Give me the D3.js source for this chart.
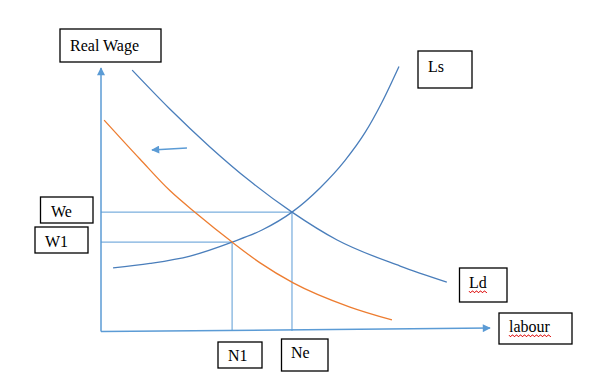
<!DOCTYPE html>
<html>
<head>
<meta charset="utf-8">
<script src="https://cdn.jsdelivr.net/npm/d3@7"></script>
<style>
  html, body { margin: 0; padding: 0; background: #fff; }
  svg { display: block; }
  text { font-family: "Liberation Serif", "Times New Roman", serif; font-size: 16px; fill: #000; }
</style>
</head>
<body>
<svg id="chart" width="600" height="372"></svg>
<script>
// ---- data (labour on x: 0..100, real wage on y: 0..100) ----
const ldLabour = [8.0, 17.7, 28.0, 38.3, 49.1, 60.7, 76.9, 88.9];
const ldWage   = [99.2, 84.4, 70.0, 57.0, 45.2, 34.6, 24.7, 18.6];

const lsLabour = [3.1, 12.6, 22.9, 33.7, 41.4, 49.1, 56.3, 62.7, 67.9, 72.2, 76.6];
const lsWage   = [24.0, 25.7, 28.5, 33.8, 38.4, 45.2, 54.4, 64.8, 75.5, 86.9, 100.6];

const ld2Labour = [0.8, 10.0, 17.7, 24.7, 33.7, 40.9, 49.4, 64.0, 74.8];
const ld2Wage   = [80.2, 65.4, 53.4, 44.5, 33.8, 25.9, 18.3, 9.1, 4.2];

const eqLabour = [49.1, 33.7];   // Ne, N1
const eqWage   = [45.2, 33.8];   // We, W1

const shiftArrowLabour = [22.1, 13.1];
const shiftArrowWage   = [69.6, 68.8];

const labels = ["Real Wage", "Ls", "We", "W1", "N1", "Ne", "labour", "Ld"];

// ---- layout ----
const svg = d3.select("#chart");
const x = d3.scaleLinear().domain([0, 100]).range([101, 490]);
const y = d3.scaleLinear().domain([0, 100]).range([331, 68]);

const blue = "#5b9bd5", curveBlue = "#4a7ebb", orange = "#ed7d31";

const defs = svg.append("defs");
defs.append("marker").attr("id", "ah").attr("viewBox", "0 0 10 10")
  .attr("refX", 9).attr("refY", 5).attr("markerWidth", 10).attr("markerHeight", 8)
  .attr("markerUnits", "userSpaceOnUse").attr("orient", "auto")
  .append("path").attr("d", "M0,0 L10,5 L0,10 Z").attr("fill", blue);

// axes
svg.append("line").attr("x1", x(0)).attr("y1", y(-0.2)).attr("x2", x(100)).attr("y2", y(1.1))
  .attr("stroke", blue).attr("stroke-width", 1.5).attr("marker-end", "url(#ah)");
svg.append("line").attr("x1", x(0)).attr("y1", y(-0.2)).attr("x2", x(0)).attr("y2", y(100))
  .attr("stroke", blue).attr("stroke-width", 1.5).attr("marker-end", "url(#ah)");

// guide lines
svg.append("line").attr("x1", x(0)).attr("x2", x(eqLabour[0])).attr("y1", y(eqWage[0])).attr("y2", y(eqWage[0]))
  .attr("stroke", blue).attr("stroke-width", 1);
svg.append("line").attr("x1", x(0)).attr("x2", x(eqLabour[1])).attr("y1", y(eqWage[1])).attr("y2", y(eqWage[1]))
  .attr("stroke", blue).attr("stroke-width", 1);
svg.append("line").attr("x1", x(eqLabour[0])).attr("x2", x(eqLabour[0])).attr("y1", y(eqWage[0])).attr("y2", y(0))
  .attr("stroke", blue).attr("stroke-width", 1);
svg.append("line").attr("x1", x(eqLabour[1])).attr("x2", x(eqLabour[1])).attr("y1", y(eqWage[1])).attr("y2", y(0))
  .attr("stroke", blue).attr("stroke-width", 1);

// curves
const line = d3.line().x(d => x(d[0])).y(d => y(d[1])).curve(d3.curveMonotoneX);
function drawCurve(xs, ys, color) {
  svg.append("path").datum(xs.map((v, i) => [v, ys[i]]))
    .attr("d", line).attr("fill", "none").attr("stroke", color).attr("stroke-width", 1.3);
}
drawCurve(ldLabour, ldWage, curveBlue);
drawCurve(lsLabour, lsWage, curveBlue);
drawCurve(ld2Labour, ld2Wage, orange);

// shift arrow
svg.append("line")
  .attr("x1", x(shiftArrowLabour[0])).attr("y1", y(shiftArrowWage[0]))
  .attr("x2", x(shiftArrowLabour[1])).attr("y2", y(shiftArrowWage[1]))
  .attr("stroke", blue).attr("stroke-width", 1.5).attr("marker-end", "url(#ah)");

// label boxes [x, y, w, h, textX, baseline]
const boxes = [
  [60, 29, 101, 33, 70, 51],
  [418, 51, 54, 37, 428, 72],
  [40.5, 197, 52.5, 26, 51, 217],
  [35, 227, 53, 26, 45, 247],
  [218, 342, 44, 26, 228, 361],
  [281.5, 339, 46.5, 32, 291, 358],
  [499, 313, 73, 31, 509, 332],
  [459.5, 268, 47.5, 34, 469, 288]
];
labels.forEach((t, i) => {
  const b = boxes[i];
  svg.append("rect").attr("x", b[0]).attr("y", b[1]).attr("width", b[2]).attr("height", b[3])
    .attr("fill", "#fff").attr("stroke", "#000").attr("stroke-width", 1.3);
  const txt = svg.append("text").attr("x", b[4]).attr("y", b[5]).text(t);
  if (t === "labour" || t === "Ld") {
    const w = txt.node().getComputedTextLength();
    let d = "M" + b[4] + "," + (b[5] + 3);
    for (let k = 0; k * 2 < w; k++) d += " l1," + (k % 2 ? -1.5 : 1.5) + " l1,0";
    svg.append("path").attr("d", d).attr("fill", "none").attr("stroke", "#e02020").attr("stroke-width", 1);
  }
});
</script>
</body>
</html>
